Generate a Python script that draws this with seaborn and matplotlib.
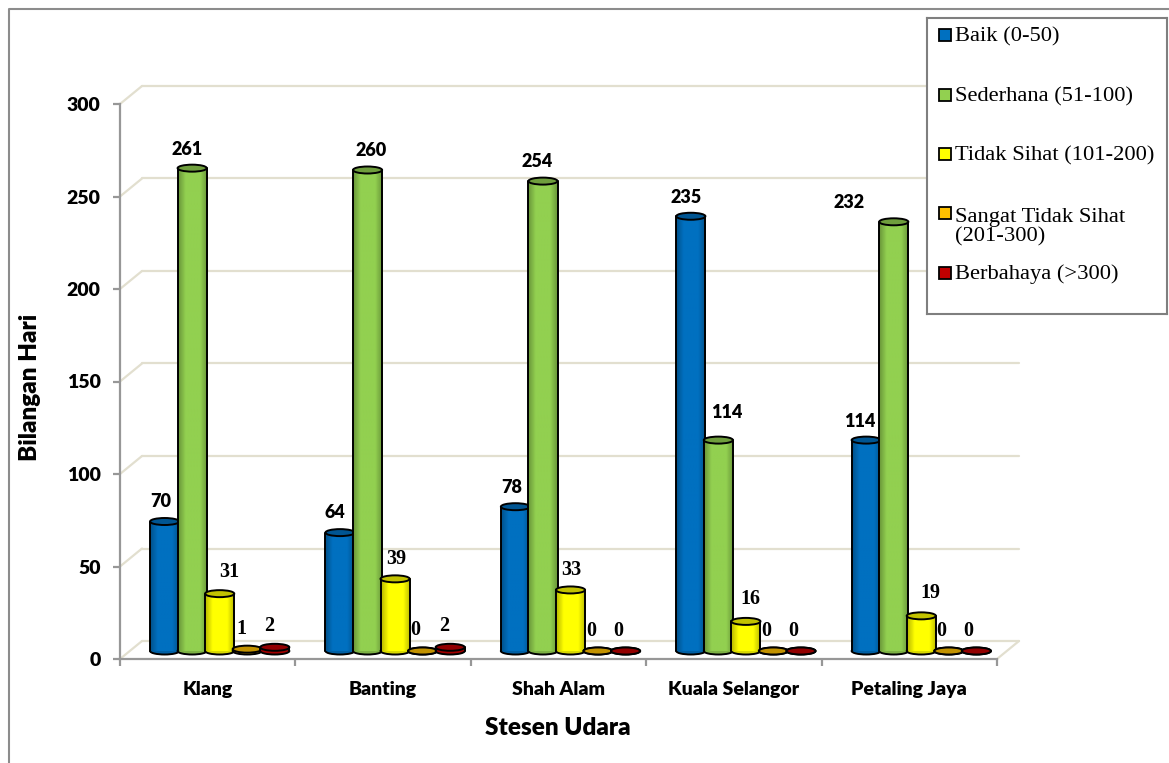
import numpy as np
import pandas as pd
import seaborn as sns
import matplotlib.pyplot as plt
from matplotlib.colors import LinearSegmentedColormap, to_rgb
from matplotlib.lines import Line2D
from matplotlib.patches import Ellipse, Rectangle

# Data
stations = ["Klang", "Banting", "Shah Alam", "Kuala Selangor", "Petaling Jaya"]
categories = ["Baik (0-50)", "Sederhana (51-100)", "Tidak Sihat (101-200)",
              "Sangat Tidak Sihat\n(201-300)", "Berbahaya (>300)"]
colors = ["#0070c0", "#92d050", "#ffff00", "#ffc000", "#c00000"]

baik = [70, 64, 78, 235, 114]
sederhana = [261, 260, 254, 114, 232]
tidak_sihat = [31, 39, 33, 16, 19]
sangat = [1, 0, 0, 0, 0]
berbahaya = [2, 2, 0, 0, 0]
series = [baik, sederhana, tidak_sihat, sangat, berbahaya]

y_ticks = [0, 50, 100, 150, 200, 250, 300]

# Label nudges in pixels, per series then per station
label_dx = [[-3, -4, -3, -4, -5], [-4, 5, -5, 9, -44], [11, 2, 2, 5, 10],
            [-5, -6, -6, -6, -7], [-5, -5, -6, -7, -7]]
label_dy = [[20, 20, 19, 19, 19], [19, 19, 20, 28, 19], [22, 20, 20, 22, 23],
            [20, 21, 20, 20, 20], [21, 21, 20, 20, 20]]

W, H = 1169, 763
GRID = "#e2dfcf"
AXIS = "#979797"
SANS = "Lato"
SERIF = "Liberation Serif"
HEAVY = 800

sns.set_theme(style="white")
plt.rcParams["font.family"] = [SANS, "DejaVu Sans"]

df = pd.DataFrame({cat: vals for cat, vals in zip(categories, series)}, index=stations)
df = df.rename_axis("stesen").reset_index().melt("stesen", var_name="kategori", value_name="hari")


def box(left, top, right, bottom):
    return [left / W, 1 - bottom / H, (right - left) / W, (bottom - top) / H]


def shade(color, f):
    return tuple(c * f for c in to_rgb(color))


fig = plt.figure(figsize=(W / 100, H / 100), dpi=100, facecolor="white")

# outer chart border
fig.add_artist(Line2D(np.array([9, 9, W]) / W, 1 - np.array([H, 9, 9]) / H, color="#8c8c8c", lw=1.5))

# front plane: axis lines, ticks, labels
ax = fig.add_axes(box(120, 104, 997, 659))
ax.patch.set_visible(False)
ax.set_xlim(-0.5, 4.5)
ax.set_ylim(0, 300)
for side in ["top", "right"]:
    ax.spines[side].set_visible(False)
for side in ["left", "bottom"]:
    ax.spines[side].set_color(AXIS)
    ax.spines[side].set_linewidth(1.6)
ax.set_yticks(y_ticks)
ax.set_yticklabels(y_ticks, fontsize=14, fontweight=HEAVY, color="black")
ax.set_xticks(range(len(stations)))
ax.set_xticklabels(stations, fontsize=14, fontweight=HEAVY, color="black")
ax.set_xticks(np.arange(-0.5, 5), minor=True)
ax.tick_params(axis="y", length=5, width=1.6, color=AXIS, pad=9, left=True)
ax.tick_params(axis="x", which="major", length=0, pad=16, bottom=False)
ax.tick_params(axis="x", which="minor", length=5, width=1.6, color=AXIS, bottom=True)
ax.set_xlabel("Stesen Udara", fontsize=17.5, fontweight=HEAVY, color="black")
ax.set_ylabel("Bilangan Hari", fontsize=17.5, fontweight=HEAVY, color="black")
ax.yaxis.set_label_coords(-0.09, 0.49)
ax.xaxis.set_label_coords(0.499, -0.104)

# back wall gridlines and the oblique lines joining them to the axis
wall_x = 22 / (877 / 5)
wall_y = 18 / (555 / 300)
for t in y_ticks:
    ax.plot([-0.5, -0.5 + wall_x], [t, t + wall_y], color=GRID, lw=1.6, clip_on=False, zorder=1)
    ax.plot([-0.5 + wall_x, 4.5 + wall_x], [t + wall_y] * 2, color=GRID, lw=1.6, clip_on=False, zorder=1)
ax.plot([4.5, 4.5 + wall_x], [0, wall_y], color=GRID, lw=1.6, clip_on=False, zorder=1)

# bars sit half way into the floor, so they get their own shifted axes
ax_bars = fig.add_axes(box(132, 96, 1009, 651))
sns.barplot(data=df, x="stesen", y="hari", hue="kategori", hue_order=categories,
            palette=colors, order=stations, width=0.785, gap=0, legend=False, ax=ax_bars)
ax_bars.set_xlim(-0.5, 4.5)
ax_bars.set_ylim(0, 300)
ax_bars.axis("off")

cap_h = 7 / (555 / 300)
extra_w = 1.6 / (877 / 5)
for s, container in enumerate(ax_bars.containers):
    cmap = LinearSegmentedColormap.from_list(
        "cyl", [shade(colors[s], 0.72), colors[s], shade(colors[s], 1.0), colors[s], shade(colors[s], 0.72)])
    z = 3 + s
    for i, bar in enumerate(container):
        bar.set_visible(False)
        v = bar.get_height()
        x0 = bar.get_x() - extra_w / 2
        w = bar.get_width() + extra_w
        cx = x0 + w / 2
        ax_bars.add_patch(Ellipse((cx, 0), w, cap_h, fc=shade(colors[s], 0.85), ec="black", lw=1.4,
                                  clip_on=False, zorder=z))
        if v > 0:
            ax_bars.imshow(np.linspace(0, 1, 40)[None, :], cmap=cmap, extent=(x0, x0 + w, 0, v),
                           aspect="auto", zorder=z + 0.1, clip_on=False)
            ax_bars.plot([x0, x0], [0, v], color="black", lw=1.4, zorder=z + 0.2, clip_on=False)
            ax_bars.plot([x0 + w, x0 + w], [0, v], color="black", lw=1.4, zorder=z + 0.2, clip_on=False)
        ax_bars.add_patch(Ellipse((cx, v), w, cap_h, fc=shade(colors[s], 0.76), ec="black", lw=1.4,
                                  clip_on=False, zorder=z + 0.3))
        ax_bars.annotate(str(series[s][i]), xy=(cx, v), xytext=(label_dx[s][i] - 1, label_dy[s][i]),
                         textcoords="offset pixels", ha="center", va="center", color="black",
                         fontsize=13 if s < 2 else 14.5, fontweight=HEAVY if s < 2 else "bold",
                         family=SANS if s < 2 else SERIF, zorder=20)
ax_bars.set_xlim(-0.5, 4.5)
ax_bars.set_ylim(0, 300)

# legend box, laid out in pixels because the wrapped entry breaks even spacing
ax_leg = fig.add_axes(box(927, 18, 1167, 314), zorder=10)
ax_leg.set_xlim(927, 1167)
ax_leg.set_ylim(314, 18)
ax_leg.set_xticks([])
ax_leg.set_yticks([])
for sp in ax_leg.spines.values():
    sp.set_color("#7f7f7f")
    sp.set_linewidth(1.5)
legend_y = [35, 95, 154, 213, 273]
for cat, col, y in zip(categories, colors, legend_y):
    ax_leg.add_patch(Rectangle((938.5, y - 6), 12, 12, fc=col, ec="black", lw=1.3))
    if "\n" in cat:
        y += 12.5
    ax_leg.text(955, y + 1.5, cat, family=SERIF, fontsize=16.2, color="black", va="center", ha="left",
                linespacing=1.0)

fig.savefig("out.png", dpi=100)
plt.close(fig)
